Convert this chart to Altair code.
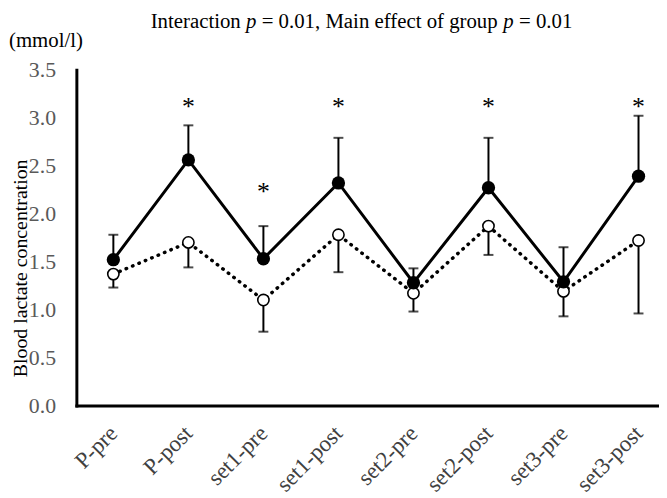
import altair as alt
import pandas as pd

categories = ["P-pre", "P-post", "set1-pre", "set1-post", "set2-pre", "set2-post", "set3-pre", "set3-post"]
filled_mean = [1.52, 2.56, 1.53, 2.32, 1.28, 2.27, 1.29, 2.39]
filled_upper = [1.78, 2.92, 1.87, 2.79, 1.43, 2.79, 1.65, 3.02]
open_mean = [1.37, 1.70, 1.10, 1.78, 1.17, 1.87, 1.19, 1.72]
open_lower = [1.23, 1.44, 0.77, 1.39, 0.98, 1.57, 0.93, 0.96]
star_idx = [1, 2, 3, 5, 7]
star_y = [3.03, 2.14, 3.03, 3.03, 3.03]
y_ticks = [0.0, 0.5, 1.0, 1.5, 2.0, 2.5, 3.0, 3.5]

FONT = "Liberation Serif"

df = pd.DataFrame({
    "idx": list(range(len(categories))),
    "cat": categories,
    "fm": filled_mean,
    "fu": filled_upper,
    "om": open_mean,
    "ol": open_lower,
})
stars = pd.DataFrame({"idx": star_idx, "y": star_y, "t": ["*"] * len(star_idx)})

label_expr = "[" + ",".join("'" + c + "'" for c in categories) + "][datum.value]"

xscale = alt.Scale(domain=[-0.493, 7.273], nice=False, zero=False)
yscale = alt.Scale(domain=[0, 3.5], nice=False)

xaxis = alt.Axis(values=list(range(len(categories))), labelExpr=label_expr, title=None,
                 labelAngle=-45, labelAlign="right", labelBaseline="middle",
                 labelOverlap=False, labelBound=False, labelFlush=False,
                 labelPadding=24, labelFontSize=23, labelColor="#404040", labelFont=FONT)
yaxis = alt.Axis(values=y_ticks, format=".1f", title="Blood lactate concentration",
                 titleFont=FONT, titleFontSize=20, titleFontWeight="normal", titleColor="black",
                 titleAngle=-90, titleAlign="center", titleBaseline="middle", titleX=-56, titleY=200,
                 labelOverlap=False, labelFontSize=22, labelColor="#595959", labelFont=FONT, labelPadding=21)

X = alt.X("idx:Q", scale=xscale, axis=xaxis)
Xn = alt.X("idx:Q", scale=xscale)

base = alt.Chart(df)

dotted = base.mark_line(color="black", strokeWidth=3.5, strokeDash=[0.5, 6.5], strokeCap="round").encode(
    x=X, y=alt.Y("om:Q", scale=yscale, axis=yaxis))
open_bar = base.mark_rule(color="black", strokeWidth=2).encode(x=Xn, y="om:Q", y2="ol:Q")
open_cap = base.mark_tick(color="black", orient="horizontal", size=10, thickness=2).encode(x=Xn, y="ol:Q")
open_pts = base.mark_circle(fill="white", stroke="black", strokeWidth=1.6, size=130, opacity=1).encode(x=Xn, y="om:Q")

solid = base.mark_line(color="black", strokeWidth=3).encode(x=Xn, y="fm:Q")
filled_bar = base.mark_rule(color="black", strokeWidth=2).encode(x=Xn, y="fm:Q", y2="fu:Q")
filled_cap = base.mark_tick(color="black", orient="horizontal", size=10, thickness=2).encode(x=Xn, y="fu:Q")
filled_pts = base.mark_circle(color="black", size=180, opacity=1).encode(x=Xn, y="fm:Q")

star_layer = alt.Chart(stars).mark_text(font=FONT, fontSize=26, baseline="alphabetic", color="black").encode(
    x=Xn, y=alt.Y("y:Q", scale=yscale), text="t:N")

# title pieces (with italic p) and unit label; spaces carried by the x offsets
title_pieces = [
    ("Interaction", "normal", 75.0),
    ("p", "italic", 171.2),
    ("= 0.01, Main effect of group", "normal", 187.0),
    ("p", "italic", 430.9),
    ("= 0.01", "normal", 446.7),
]
title_layers = []
for txt, style, xpos in title_pieces:
    title_layers.append(
        alt.Chart(pd.DataFrame({"t": [txt]})).mark_text(
            font=FONT, fontSize=21, fontStyle=style, align="left", baseline="alphabetic", color="black"
        ).encode(x=alt.value(xpos), y=alt.value(-42.3), text="t:N")
    )
unit = alt.Chart(pd.DataFrame({"t": ["(mmol/l)"]})).mark_text(
    font=FONT, fontSize=21, align="left", baseline="alphabetic", color="black"
).encode(x=alt.value(-68), y=alt.value(-23), text="t:N")

chart = alt.layer(
    dotted, open_bar, open_cap, open_pts, solid, filled_bar, filled_cap, filled_pts, star_layer,
    *title_layers, unit
).properties(
    width=588, height=339,
    padding={"left": 69, "top": 60, "right": 0, "bottom": 90},
    autosize=alt.AutoSizeParams(type="none"),
).configure_view(stroke=None).configure_axis(
    grid=False, ticks=False, domainColor="black", domainWidth=3, domainCap="square"
)

chart.save("out.html", embed_options={"renderer": "svg", "actions": False})
